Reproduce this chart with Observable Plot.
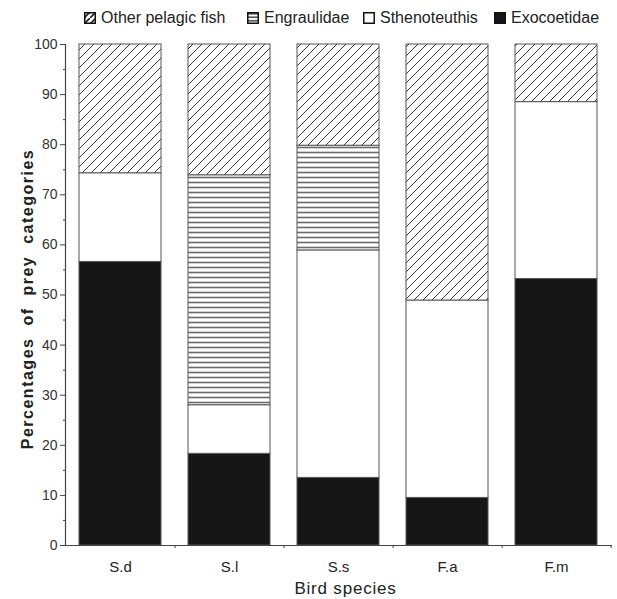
<!DOCTYPE html>
<html>
<head>
<meta charset="utf-8">
<script src="https://cdn.jsdelivr.net/npm/d3@7"></script>
<script src="https://cdn.jsdelivr.net/npm/@observablehq/plot@0.6"></script>
<style>
  body { margin: 0; background: #fff; font-family: "Liberation Sans", Arial, Helvetica, sans-serif; }
  #legend { position: relative; height: 30px; width: 617px; font-size: 16px; color: #222; }
  #legend .item { position: absolute; top: 10px; display: flex; align-items: center; white-space: nowrap; line-height: 16px; }
  #legend svg { margin-right: 5px; }
</style>
</head>
<body>
<svg width="0" height="0" style="position:absolute">
  <defs>
    <pattern id="hatch" patternUnits="userSpaceOnUse" width="9" height="9">
      <rect width="9" height="9" fill="#fff"/>
      <path d="M-1,1 L1,-1 M0,9 L9,0 M8,10 L10,8" stroke="#3a3a3a" stroke-width="1"/>
    </pattern>
    <pattern id="horiz" patternUnits="userSpaceOnUse" width="10" height="5">
      <rect width="10" height="5" fill="#fff"/>
      <line x1="0" y1="2.5" x2="10" y2="2.5" stroke="#6a6a6a" stroke-width="1.6"/>
    </pattern>
    <pattern id="hatchS" patternUnits="userSpaceOnUse" width="6" height="6">
      <rect width="6" height="6" fill="#fff"/>
      <path d="M0,6 L6,0" stroke="#222" stroke-width="1.6"/>
    </pattern>
    <pattern id="horizS" patternUnits="userSpaceOnUse" width="6" height="3.5">
      <rect width="6" height="3.5" fill="#fff"/>
      <line x1="0" y1="1.75" x2="6" y2="1.75" stroke="#222" stroke-width="1.3"/>
    </pattern>
  </defs>
</svg>
<div id="legend"></div>
<div id="chart"></div>
<script>
// ---- data ----
const species = ["S.d", "S.l", "S.s", "F.a", "F.m"];
const categories = ["Exocoetidae", "Sthenoteuthis", "Engraulidae", "Other pelagic fish"];
const exocoetidae   = [56.6, 18.3, 13.5,  9.5, 53.2];
const sthenoteuthis = [17.7,  9.7, 45.4, 39.4, 35.3];
const engraulidae   = [ 0.0, 45.9, 20.9,  0.0,  0.0];
const otherPelagic  = [25.7, 26.1, 20.2, 51.1, 11.5];
const yTicks = [0, 10, 20, 30, 40, 50, 60, 70, 80, 90, 100];
const yMinorTicks = [5, 15, 25, 35, 45, 55, 65, 75, 85, 95];
const legendOrder = ["Other pelagic fish", "Engraulidae", "Sthenoteuthis", "Exocoetidae"];
const yTitle = "Percentages of prey categories";
const xTitle = "Bird species";

const fills = {
  "Exocoetidae": "#161616",
  "Sthenoteuthis": "#ffffff",
  "Engraulidae": "url(#horiz)",
  "Other pelagic fish": "url(#hatch)"
};
const swatchFills = {
  "Exocoetidae": "#161616",
  "Sthenoteuthis": "#ffffff",
  "Engraulidae": "url(#horizS)",
  "Other pelagic fish": "url(#hatchS)"
};

const series = [exocoetidae, sthenoteuthis, engraulidae, otherPelagic];
const rows = [];
species.forEach((s, i) => {
  categories.forEach((c, j) => {
    const v = series[j][i];
    if (v > 0) rows.push({species: s, category: c, value: v});
  });
});

// ---- legend ----
const legend = document.getElementById("legend");
const legendLeft = [84, 247, 363, 494];
legendOrder.forEach((c, i) => {
  const item = document.createElement("div");
  item.className = "item";
  item.style.left = legendLeft[i] + "px";
  item.innerHTML = `<svg width="12" height="12"><rect x="0.75" y="0.75" width="10.5" height="10.5" fill="${swatchFills[c]}" stroke="#111" stroke-width="1.5"/></svg><span>${c}</span>`;
  legend.appendChild(item);
});

// ---- chart ----
const W = 617, H = 569, ml = 65, mr = 6, mt = 14, mb = 54;
const step = (W - ml - mr) / species.length;

const plot = Plot.plot({
  width: W,
  height: H,
  marginLeft: ml,
  marginRight: mr,
  marginTop: mt,
  marginBottom: mb,
  style: {fontFamily: '"Liberation Sans", Arial, Helvetica, sans-serif', fontSize: "14px", color: "#333", background: "#fff"},
  x: {domain: species, paddingInner: 0.25, paddingOuter: 0.125, label: null},
  y: {domain: [0, 100], label: null},
  color: {domain: categories, range: categories.map(c => fills[c])},
  marks: [
    Plot.barY(rows, {x: "species", y: "value", fill: "category", stroke: "#555", strokeWidth: 1}),
    Plot.frame({anchor: "left", stroke: "#444", strokeWidth: 1.2}),
    Plot.frame({anchor: "bottom", stroke: "#444", strokeWidth: 1.2}),
    Plot.axisY({ticks: yTicks, tickSize: 5, tickPadding: 3, label: null, stroke: "#444", fontSize: 14}),
    Plot.axisY({ticks: yMinorTicks, tickSize: 2, text: null, label: null, stroke: "#444"}),
    Plot.axisX({tickSize: 0, tickPadding: 16, label: null, fontSize: 15, fill: "#222"}),
    Plot.axisX({tickSize: 3, text: null, label: null, dx: step / 2, stroke: "#444"}),
    Plot.text([yTitle], {frameAnchor: "left", textAnchor: "middle", dx: -38, dy: 4, rotate: -90, fontSize: 16, fontWeight: "bold", fill: "#222"}),
    Plot.text([xTitle], {frameAnchor: "bottom", dy: 48, dx: 7, fontSize: 17, fill: "#222"})
  ]
});
d3.select(plot).selectAll("text")
  .filter(function() { return this.textContent === yTitle; })
  .style("letter-spacing", "1.5px")
  .style("word-spacing", "6px");
d3.select(plot).selectAll("text")
  .filter(function() { return this.textContent === xTitle; })
  .style("letter-spacing", "0.8px");
document.getElementById("chart").appendChild(plot);
</script>
</body>
</html>
